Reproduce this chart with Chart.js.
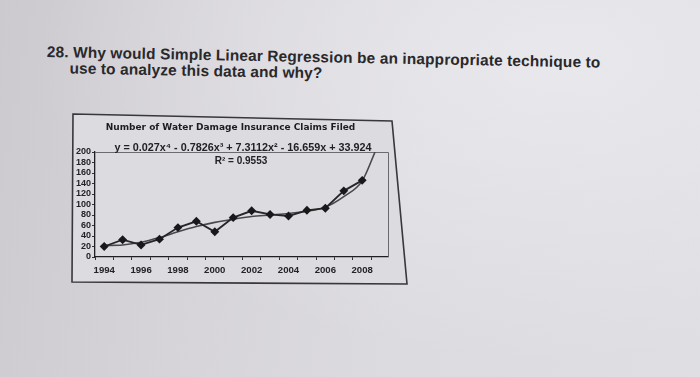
<!DOCTYPE html>
<html><head><meta charset="utf-8">
<script src="https://cdn.jsdelivr.net/npm/chart.js@4.4.1/dist/chart.umd.min.js"></script>
<style>
html,body{margin:0;padding:0;width:700px;height:377px;overflow:hidden;}
body{position:relative;font-family:"Liberation Sans",Arial,sans-serif;
 background:
  radial-gradient(ellipse 520px 300px at 560px 60px, rgba(234,233,237,0.9), rgba(234,233,237,0) 100%),
  linear-gradient(100deg,#cccacf 0%,#d6d4d8 30%,#dcdbdf 60%,#dfdee2 100%);}
#q{position:absolute;left:47px;top:44px;transform:rotate(1.1deg);transform-origin:0 0;color:#29282b;font-size:15.4px;font-weight:bold;line-height:16px;white-space:nowrap;letter-spacing:0.15px;}
#q .l2{padding-left:23px;}
#frame{position:absolute;left:0;top:0;}
#box{position:absolute;left:73px;top:114px;width:334px;height:169px;}
</style></head>
<body>
<svg id="frame" width="700" height="377"><polygon points="73,114 392,121 407,284 72,282" fill="#dcdbdf" stroke="#38373a" stroke-width="1.6"/></svg>
<div id="q"><div>28. Why would Simple Linear Regression be an inappropriate technique to</div><div class="l2">use to analyze this data and why?</div></div>
<div id="box"><canvas id="c" width="334" height="169"></canvas></div>
<script>
const years = [1994,1995,1996,1997,1998,1999,2000,2001,2002,2003,2004,2005,2006,2007,2008];
const claims = [20,33,23,34,56,68,48,75,88,81,78,89,93,126,146];
const trendYears = [1994,1995,1996,1997,1998,1999,2000,2001,2002,2003,2004,2005,2006,2007,2008,2008.7];
const trendValues = [22,23,28,37,48,58,66,72,77,80,83,87,95,115,145,200];
const yTicks = [0,20,40,60,80,100,120,140,160,180,200];
const xTickLabels = ['1994','1996','1998','2000','2002','2004','2006','2008'];
const chartTitle = 'Number of Water Damage Insurance Claims Filed';
const equation = 'y = 0.027x⁴ - 0.7826x³ + 7.3112x² - 16.659x + 33.924';
const rSquared = 'R² = 0.9553';

const yFont = {family:'"Liberation Sans", Arial, sans-serif', size:9, weight:'bold'};
const xFont = {family:'"Liberation Sans", Arial, sans-serif', size:9.6, weight:'bold'};

const decor = {
  id:'decor',
  beforeDatasetsDraw(chart){
    const a = chart.chartArea, ctx = chart.ctx;
    ctx.save();
    ctx.strokeStyle = '#6b6a6e';
    ctx.lineWidth = 1;
    ctx.beginPath();
    ctx.moveTo(a.left, a.top + 0.5);
    ctx.lineTo(a.right + 0.5, a.top + 0.5);
    ctx.lineTo(a.right + 0.5, a.bottom);
    ctx.stroke();
    ctx.restore();
  },
  afterDatasetsDraw(chart){
    const ctx = chart.ctx;
    ctx.save();
    ctx.fillStyle = '#222124';
    ctx.textAlign = 'center';
    ctx.textBaseline = 'middle';
    ctx.font = 'bold 10.8px "Liberation Sans", Arial, sans-serif';
    ctx.fillText(equation, 170, 34);
    ctx.font = 'bold 10px "Liberation Sans", Arial, sans-serif';
    ctx.fillText(rSquared, 168, 47);
    ctx.restore();
  }
};

new Chart(document.getElementById('c'), {
  type:'line',
  data:{
    datasets:[
      {label:'Claims', data: years.map((x,i)=>({x, y: claims[i]})),
       borderColor:'#262528', borderWidth:1.8, pointStyle:'rectRot', pointRadius:3.2,
       pointBackgroundColor:'#19181b', pointBorderColor:'#19181b', tension:0, order:1},
      {label:'Trend', data: trendYears.map((x,i)=>({x, y: trendValues[i]})),
       borderColor:'#49484c', borderWidth:1.6, pointRadius:0, cubicInterpolationMode:'monotone', order:2}
    ]
  },
  options:{
    responsive:false, animation:false,
    layout:{padding:{left:0,right:19,top:0,bottom:0}},
    plugins:{
      legend:{display:false}, tooltip:{enabled:false},
      title:{display:true, text:chartTitle, color:'#1d1c1f',
        font:{family:'"DejaVu Sans", sans-serif', size:9, weight:'bold'},
        padding:{top:8.5, bottom:18.7}}
    },
    scales:{
      x:{type:'linear', min:1993.5, max:2009.4,
        afterBuildTicks:s=>{ s.ticks = years.map(v=>({value:v})); },
        afterFit:s=>{ s.height = 26; },
        grid:{offset:true, drawOnChartArea:false, drawTicks:true, tickLength:3, color:'#333236'},
        border:{display:true, color:'#1f1e21', width:1.3},
        ticks:{autoSkip:false, maxRotation:0, padding:4.5, color:'#232225', font:xFont,
          callback:v=> xTickLabels.includes(String(v)) ? String(v) : ''}
      },
      y:{min:0, max:200,
        afterBuildTicks:s=>{ s.ticks = yTicks.map(v=>({value:v})); },
        afterFit:s=>{ s.width = 22; },
        grid:{drawOnChartArea:false, tickLength:3, color:'#333236'},
        border:{display:true, color:'#1f1e21', width:1.3},
        ticks:{autoSkip:false, padding:1, color:'#232225', font:yFont}
      }
    }
  },
  plugins:[decor]
});
</script>
</body></html>
